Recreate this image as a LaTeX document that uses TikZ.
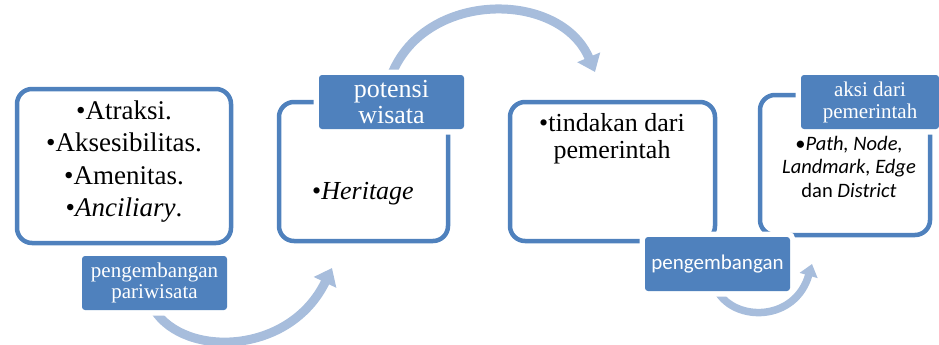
\documentclass[tikz,border=0pt]{standalone}
\usepackage{fontspec}
\setmainfont{Liberation Serif}
\newfontfamily\calibri{Carlito}
\usetikzlibrary{arrows.meta,backgrounds}

\definecolor{boxblue}{RGB}{79,129,189}
\definecolor{arrowblue}{RGB}{167,189,220}

\tikzset{
  card/.style={draw=boxblue, line width=4.5pt, rounded corners=15pt, inner sep=0pt},
  tag/.style={fill=boxblue, text=white, rounded corners=3pt, inner sep=0pt,
    preaction={draw=white, line width=11pt},
    minimum width=145pt, minimum height=54pt, align=center},
  cardtext/.style={align=center, inner sep=0pt},
  curvearrow/.style={draw=arrowblue, line width=9pt, -{Triangle[width=24pt,length=16pt]}},
}

\begin{document}
\begin{tikzpicture}[x=1pt,y=-1pt]

\useasboundingbox (0,0) rectangle (939,345);

% Boxes
\node[card, minimum width=214pt, minimum height=154pt] (b1) at (124,166) {};
\node[card, minimum width=169pt, minimum height=139pt] (b2) at (363.5,171.5) {};
\node[card, minimum width=205pt, minimum height=139pt] (b3) at (612.5,171.5) {};
\node[card, minimum width=170pt, minimum height=140pt] (b4) at (845,165) {};

% Box texts
\node[cardtext, font=\fontsize{27}{32.5}\selectfont] (t1) at (124,161.5)
  {•Atraksi.\\•Aksesibilitas.\\•Amenitas.\\•\textit{Anciliary}.};
\node[cardtext, font=\fontsize{26}{27}\selectfont] (t2) at (363,194) {•\textit{Heritage}};
\node[cardtext, font=\fontsize{26}{26.7}\selectfont] (t3) at (612,139) {•tindakan dari\\pemerintah};
\node[cardtext, font=\calibri\fontsize{20.5}{23.5}\selectfont] (t4) at (849,166.5)
  {•\textit{Path, Node,}\\\textit{Landmark, Edge}\\dan \textit{District}};

% Labels
\node[tag, font=\fontsize{21}{21}\selectfont] (l1) at (154.5,283) {pengembangan\\pariwisata};
\node[tag, font=\fontsize{26}{26}\selectfont] (l2) at (391.5,102) {potensi\\wisata};
\node[tag, font=\calibri\fontsize{21}{21}\selectfont] (l3) at (717.5,264) {pengembangan};
\node[tag, font=\fontsize{21}{22}\selectfont, minimum width=138pt] (l4) at (870,102) {aksi dari\\pemerintah};

% Curved arrows
\coordinate (e1) at (332,268);
\coordinate (e2) at (595,72);
\coordinate (e3) at (812,264);
\begin{scope}[on background layer]
\draw[curvearrow] (l1.south) .. controls (185,358) and (290,355) .. (e1);
\draw[curvearrow] (l2.north) .. controls (425,-10) and (560,-10) .. (e2);
\draw[curvearrow, line width=7.5pt, -{Triangle[width=18pt,length=12pt]}]
  (l3.south) .. controls (735,322) and (795,322) .. (e3);
\end{scope}

\end{tikzpicture}
\end{document}
